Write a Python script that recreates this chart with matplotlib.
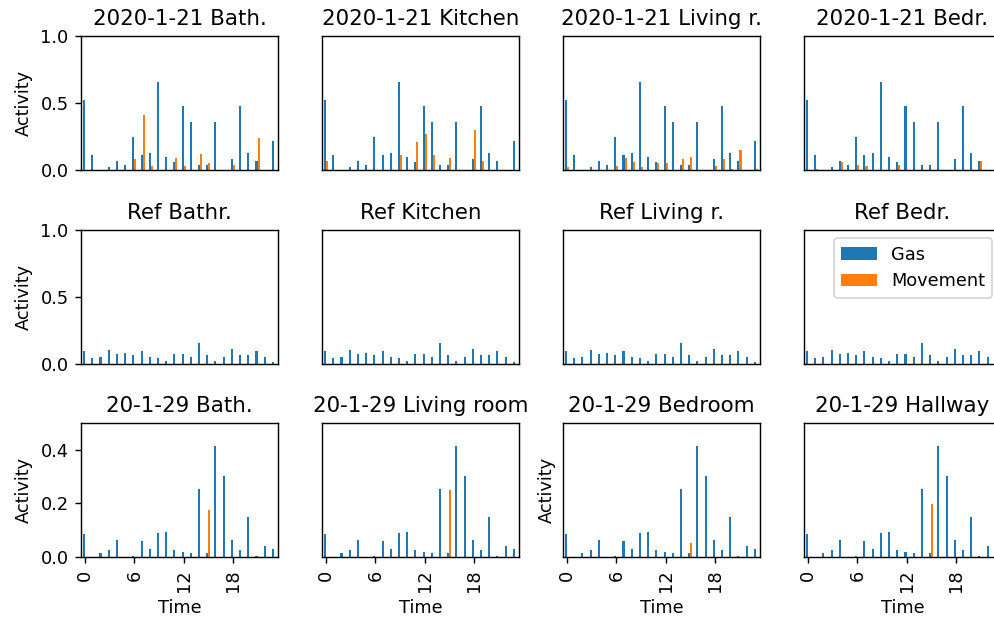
import numpy as np
import matplotlib
matplotlib.use("Agg")
import matplotlib.pyplot as plt

hours = np.arange(24)

# 2020-1-21 : same gas curve, movement per room
gas_0121 = [0.52, 0.11, 0, 0.02, 0.07, 0.04, 0.25, 0.11, 0.13, 0.66, 0.10, 0.06,
            0.48, 0.36, 0.04, 0.04, 0.36, 0, 0.08, 0.48, 0.13, 0.07, 0, 0.22]
mov_bath = [0, 0, 0, 0, 0, 0, 0.08, 0.41, 0.03, 0, 0, 0.09,
            0.03, 0, 0.12, 0.05, 0, 0, 0.04, 0, 0, 0.24, 0, 0]
mov_kitchen = [0.07, 0, 0, 0, 0, 0, 0, 0, 0, 0.11, 0, 0.21,
               0.27, 0.11, 0, 0.09, 0, 0, 0.30, 0.07, 0, 0, 0, 0]
mov_living = [0.02, 0, 0, 0, 0, 0, 0.03, 0.09, 0.06, 0.02, 0, 0.05,
              0.05, 0, 0.08, 0.10, 0, 0, 0.03, 0.08, 0.01, 0.15, 0, 0.01]
mov_bedr = [0, 0.01, 0, 0, 0.06, 0, 0.04, 0.03, 0, 0, 0, 0.04,
            0, 0, 0, 0, 0, 0, 0, 0, 0, 0.07, 0, 0]

# reference day
gas_ref = [0.09, 0.04, 0.05, 0.10, 0.07, 0.08, 0.06, 0.09, 0.05, 0.04, 0.02, 0.07,
           0.07, 0.05, 0.15, 0.06, 0.02, 0.05, 0.11, 0.06, 0.06, 0.09, 0.05, 0.01]
mov_ref = [0] * 24

# 20-1-29
gas_0129 = [0.084, 0, 0.015, 0.025, 0.065, 0, 0.005, 0.06, 0.03, 0.09, 0.095, 0.025,
            0.02, 0.015, 0.255, 0.015, 0.413, 0.304, 0.064, 0.025, 0.148, 0.005, 0.04, 0.03]
mov_0129_bath = [0] * 15 + [0.174] + [0] * 8
mov_0129_living = [0] * 15 + [0.25] + [0] * 8
mov_0129_bed = [0] * 15 + [0.054] + [0] * 8
mov_0129_hall = [0] * 15 + [0.196] + [0] * 8

titles = [["2020-1-21 Bath.", "2020-1-21 Kitchen", "2020-1-21 Living r.", "2020-1-21 Bedr."],
          ["Ref Bathr.", "Ref Kitchen", "Ref Living r.", "Ref Bedr."],
          ["20-1-29 Bath.", "20-1-29 Living room", "20-1-29 Bedroom", "20-1-29 Hallway"]]
gas = [[gas_0121] * 4, [gas_ref] * 4, [gas_0129] * 4]
mov = [[mov_bath, mov_kitchen, mov_living, mov_bedr],
       [mov_ref] * 4,
       [mov_0129_bath, mov_0129_living, mov_0129_bed, mov_0129_hall]]

fig, axs = plt.subplots(3, 4, figsize=(994 / 128, 618 / 128), dpi=128)
fig.subplots_adjust(left=0.0815, right=1.007, top=0.9417, bottom=0.0987,
                    wspace=0.223, hspace=0.444)

w = 0.25
for r in range(3):
    for c in range(4):
        ax = axs[r, c]
        ax.bar(hours - w / 2, gas[r][c], width=w, color="#1f77b4", label="Gas")
        ax.bar(hours + w / 2, mov[r][c], width=w, color="#ff7f0e", label="Movement")
        ax.set_title(titles[r][c])
        ax.set_xlim(-0.5, 23.5)
        if r < 2:
            ax.set_ylim(0, 1)
            ax.set_yticks([0, 0.5, 1.0])
            ax.set_xticks([])
        else:
            ax.set_ylim(0, 0.5)
            ax.set_yticks([0, 0.2, 0.4])
            ax.set_xticks([0, 6, 12, 18])
            ax.set_xticklabels(["0", "6", "12", "18"], rotation=90)
            ax.set_xlabel("Time")
        if c == 0:
            ax.set_ylabel("Activity")
        else:
            ax.set_yticks([])
        if r == 2 and c == 2:
            ax.set_ylabel("Activity")

axs[1, 3].legend(loc="upper right")

plt.savefig("out.png", dpi=128)
